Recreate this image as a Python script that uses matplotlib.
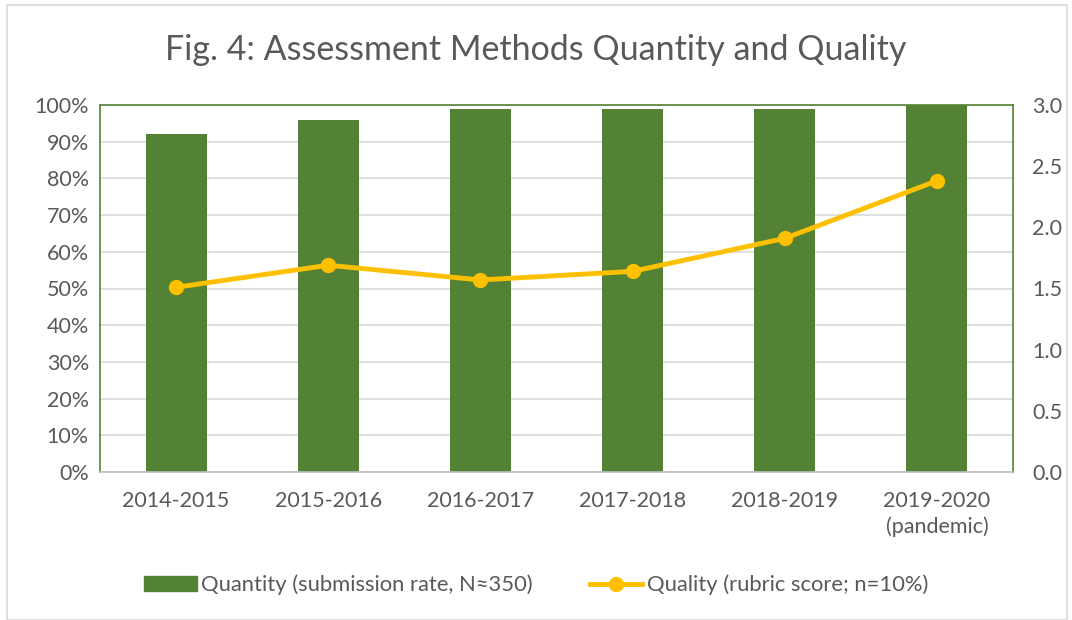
import matplotlib.pyplot as plt
import numpy as np
from matplotlib.patches import Rectangle
from matplotlib.lines import Line2D

years = ["2014-2015", "2015-2016", "2016-2017", "2017-2018", "2018-2019",
         "2019-2020\n(pandemic)"]
quantity = [0.92, 0.96, 0.99, 0.99, 0.99, 1.00]
quality = [1.51, 1.69, 1.57, 1.64, 1.91, 2.38]

green = "#548235"
gold = "#FFC000"
txt = "#595959"

plt.rcParams['font.family'] = ['Lato', 'DejaVu Sans']

fig = plt.figure(figsize=(10.72, 6.2), dpi=100)
ax = fig.add_axes([100 / 1072, 1 - 472 / 620, 913 / 1072, 367 / 620])
x = np.arange(len(years))

ax.bar(x, quantity, width=0.4, color=green, zorder=2)
ax.set_ylim(0, 1)
ax.set_xlim(-0.5, len(years) - 0.5)
ax.set_yticks(np.linspace(0, 1, 11))
ax.set_yticklabels([f"{int(round(v * 100))}%" for v in np.linspace(0, 1, 11)])
ax.yaxis.grid(True, color="#D9D9D9", linewidth=1.2, zorder=0)
ax.set_axisbelow(True)
ax.set_xticks(x)
ax.set_xticklabels(years, linespacing=1.3)
ax.tick_params(axis="both", length=0, labelsize=15.5, colors=txt, pad=8)
ax.tick_params(axis="x", pad=14)
for s in ax.spines.values():
    s.set_color(green)
    s.set_linewidth(1.2)
ax.spines["bottom"].set_color("#BFBFBF")

ax2 = ax.twinx()
ax2.plot(x, quality, color=gold, linewidth=3.5, marker="o", markersize=10, zorder=3)
ax2.set_ylim(0, 3)
ax2.set_yticks(np.arange(0, 3.01, 0.5))
ax2.set_yticklabels([f"{v:.1f}" for v in np.arange(0, 3.01, 0.5)])
ax2.tick_params(axis="y", length=0, labelsize=15.5, colors=txt, pad=14)
for s in ax2.spines.values():
    s.set_visible(False)

fig.text(0.5, 1 - 50 / 620, "Fig. 4: Assessment Methods Quantity and Quality",
         ha="center", va="center", fontsize=24.5, color=txt)

handles = [Rectangle((0, 0), 1, 1, color=green),
           Line2D([0], [0], color=gold, linewidth=3.5, marker="o", markersize=10)]
labels = ["Quantity (submission rate, N≈350)", "Quality (rubric score; n=10%)"]
fig.legend(handles, labels, loc="center", bbox_to_anchor=(0.5, 1 - 585 / 620),
           ncol=2, frameon=False, fontsize=15.8, labelcolor=txt,
           handlelength=2.4, handletextpad=0.2, columnspacing=2.6)

fig.add_artist(Rectangle((7 / 1072, 0.0), 1060 / 1072, 1 - 5 / 620,
                         transform=fig.transFigure, fill=False,
                         edgecolor="#D9D9D9", linewidth=1.2))

fig.savefig("out.png", dpi=100)
